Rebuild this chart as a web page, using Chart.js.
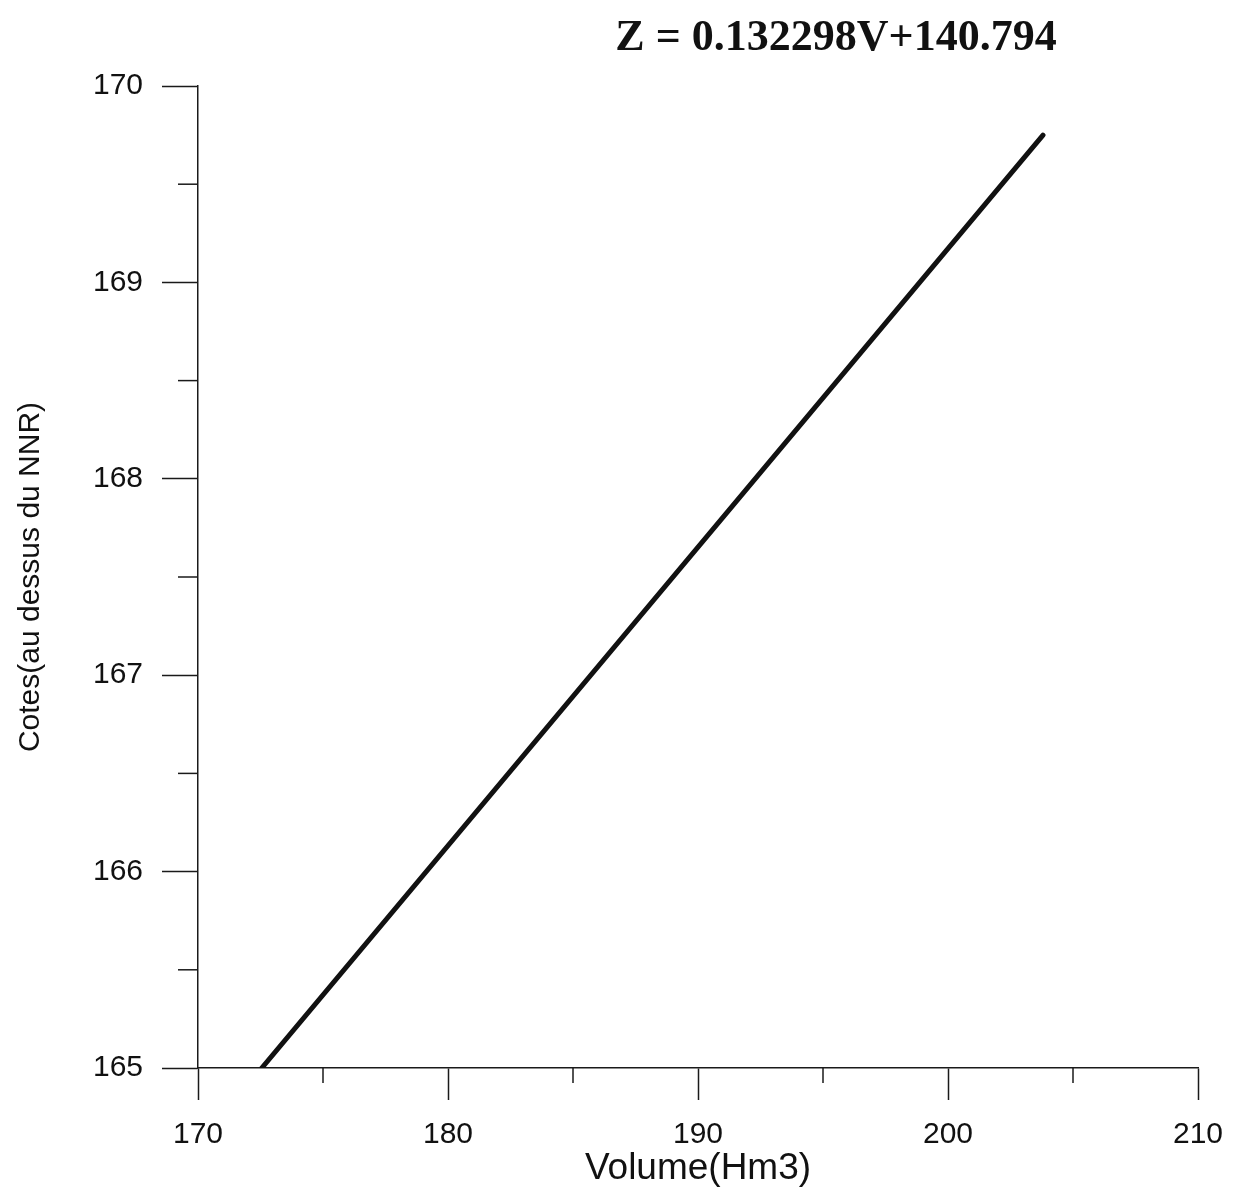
<!DOCTYPE html>
<html>
<head>
<meta charset="utf-8">
<script src="https://cdn.jsdelivr.net/npm/chart.js@4.4.0/dist/chart.umd.min.js"></script>
<style>
  html, body { margin: 0; padding: 0; background: #fff; }
</style>
</head>
<body>
<canvas id="myChart" width="1233" height="1191"></canvas>
<script>
// data
const volumes = [172.55, 203.8]
const cotes = [165, 169.75]
const xTicks = [170, 180, 190, 200, 210]
const yTicks = [165, 166, 167, 168, 169, 170]
const equation = 'Z = 0.132298V+140.794'
const xLabel = 'Volume(Hm3)'
const yLabel = 'Cotes(au dessus du NNR)'

const ink = '#1a1a1a'
const sans = "'Liberation Sans', Arial, sans-serif"

// minor ticks (half steps) + the equation on top
const extras = {
    id: 'extras',
    afterDraw(chart) {
        const c = chart.ctx
        const x = chart.scales.x
        const y = chart.scales.y
        c.save()
        c.strokeStyle = ink
        c.lineWidth = 1.5
        x.ticks.forEach(t => {
            if (xTicks.includes(t.value)) return
            const px = x.getPixelForValue(t.value)
            c.beginPath()
            c.moveTo(px, x.top)
            c.lineTo(px, x.top + 15)
            c.stroke()
        })
        y.ticks.forEach(t => {
            if (yTicks.includes(t.value)) return
            const py = y.getPixelForValue(t.value)
            c.beginPath()
            c.moveTo(y.right, py)
            c.lineTo(y.right - 20, py)
            c.stroke()
        })

        c.fillStyle = '#111'
        c.font = "bold 44px 'Liberation Serif', 'Times New Roman', serif"
        c.textAlign = 'center'
        c.textBaseline = 'alphabetic'
        c.fillText(equation, 836, 50)
        c.restore()
    }
}

const ctx = document.getElementById('myChart').getContext('2d')

let myChart = new Chart(ctx, {
    type: 'line',
    data: {
        datasets: [{
            data: volumes.map((v, i) => ({ x: v, y: cotes[i] })),
            borderColor: '#111',
            borderWidth: 5,
            borderCapStyle: 'round',
            pointRadius: 0,
            fill: false
        }]
    },
    options: {
        responsive: false,
        animation: false,
        layout: {
            padding: { top: 86, right: 35, left: 0, bottom: 0 }
        },
        plugins: {
            legend: { display: false },
            tooltip: { enabled: false },
            title: { display: false }
        },
        scales: {
            x: {
                type: 'linear',
                min: 170,
                max: 210,
                afterFit(scale) {
                    scale.height = 123
                    scale.paddingLeft = 0
                    scale.paddingRight = 0
                },
                border: { display: true, color: ink, width: 1.5 },
                grid: {
                    drawOnChartArea: false,
                    tickLength: 32,
                    tickWidth: 1.5,
                    tickColor: c => xTicks.includes(c.tick.value) ? ink : 'rgba(0,0,0,0)'
                },
                ticks: {
                    stepSize: 5,
                    autoSkip: false,
                    maxRotation: 0,
                    padding: 17,
                    color: '#111',
                    font: { family: sans, size: 30 },
                    callback: v => xTicks.includes(v) ? v : ''
                },
                title: {
                    display: true,
                    text: xLabel,
                    color: '#111',
                    font: { family: sans, size: 37 },
                    padding: { top: 0, bottom: 0 }
                }
            },
            y: {
                type: 'linear',
                min: 165,
                max: 170,
                afterFit(scale) {
                    scale.width = 198
                    scale.paddingTop = 0
                    scale.paddingBottom = 0
                },
                border: { display: true, color: ink, width: 1.5 },
                grid: {
                    drawOnChartArea: false,
                    tickLength: 36,
                    tickWidth: 1.5,
                    tickColor: c => yTicks.includes(c.tick.value) ? ink : 'rgba(0,0,0,0)'
                },
                ticks: {
                    stepSize: 0.5,
                    autoSkip: false,
                    padding: 19,
                    color: '#111',
                    font: { family: sans, size: 30 },
                    callback: v => yTicks.includes(v) ? v : ''
                },
                title: {
                    display: true,
                    text: yLabel,
                    color: '#111',
                    font: { family: sans, size: 30 },
                    padding: { top: 13, bottom: 0 }
                }
            }
        }
    },
    plugins: [extras]
})
</script>
</body>
</html>
